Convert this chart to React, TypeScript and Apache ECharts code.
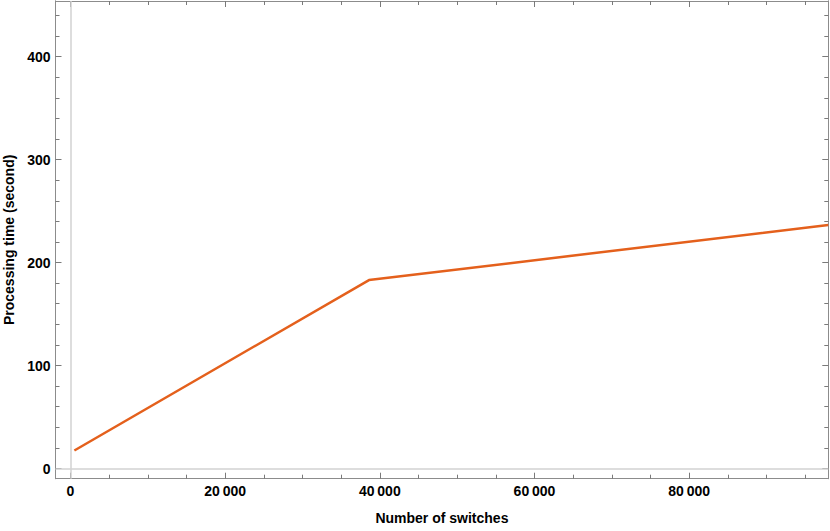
import React, { useEffect, useRef } from "react";
import * as echarts from "echarts";

const switchCounts = [500, 38600, 98000];
const processingTimes = [17.5, 183, 236.5];

const xMajorTicks = [0, 20000, 40000, 60000, 80000];
const xMinorTicks = [5000, 10000, 15000, 25000, 30000, 35000, 45000, 50000, 55000, 65000, 70000, 75000, 85000, 90000, 95000];
const yMajorTicks = [0, 100, 200, 300, 400];
const yMinorTicks = [20, 40, 60, 80, 120, 140, 160, 180, 220, 240, 260, 280, 320, 340, 360, 380, 420, 440];

const X_MIN = -1940;
const X_MAX = 98000;
const Y_MIN = -9.9;
const Y_MAX = 454;

const FRAME = "#8c8c8c";
const TICK = "#7a7a7a";
const FONT = "'Liberation Sans', Arial, sans-serif";

const fmtThousands = (v: number) =>
  String(Math.round(v)).replace(/\B(?=(\d{3})+(?!\d))/g, "\u2009");

function makeX(position: "bottom" | "top", ticks: number[], len: number, labels: boolean, name?: string) {
  return {
    type: "value",
    position,
    min: X_MIN,
    max: X_MAX,
    name: name || "",
    nameLocation: "middle",
    nameGap: 32,
    nameTextStyle: { fontFamily: FONT, fontWeight: "bold", fontSize: 14, color: "#000" },
    axisLine: { show: true, onZero: false, lineStyle: { color: FRAME, width: 1 } },
    splitLine: { show: false },
    axisTick: { show: true, inside: true, length: len, customValues: ticks, lineStyle: { color: TICK, width: 1 } },
    axisLabel: {
      show: labels,
      customValues: labels ? ticks : undefined,
      formatter: fmtThousands,
      fontFamily: FONT,
      fontWeight: "bold",
      fontSize: 14,
      color: "#000",
      margin: 5,
    },
  };
}

function makeY(position: "left" | "right", ticks: number[], len: number, labels: boolean, name?: string) {
  return {
    type: "value",
    position,
    min: Y_MIN,
    max: Y_MAX,
    name: name || "",
    nameLocation: "middle",
    nameGap: 37,
    nameRotate: 90,
    nameTextStyle: { fontFamily: FONT, fontWeight: "bold", fontSize: 14, color: "#000" },
    axisLine: { show: true, onZero: false, lineStyle: { color: FRAME, width: 1 } },
    splitLine: { show: false },
    axisTick: { show: true, inside: true, length: len, customValues: ticks, lineStyle: { color: TICK, width: 1 } },
    axisLabel: {
      show: labels,
      customValues: labels ? ticks : undefined,
      fontFamily: FONT,
      fontWeight: "bold",
      fontSize: 14,
      color: "#000",
      margin: 5,
    },
  };
}

export default function App() {
  const ref = useRef<HTMLDivElement>(null);
  useEffect(() => {
    if (!ref.current) return;
    const chart = echarts.init(ref.current, null, { renderer: "svg" });
    chart.setOption({
      animation: false,
      backgroundColor: "#fff",
      grid: {
        left: 55.5,
        right: 1.7,
        top: 1,
        bottom: 52.3,
        show: false,
        containLabel: false,
        outerBoundsMode: "none",
      },
      xAxis: [
        makeX("bottom", xMajorTicks, 6, true, "Number of switches"),
        makeX("bottom", xMinorTicks, 4, false),
        makeX("top", xMajorTicks, 6, false),
        makeX("top", xMinorTicks, 4, false),
      ],
      yAxis: [
        makeY("left", yMajorTicks, 6, true, "Processing time (second)"),
        makeY("left", yMinorTicks, 4, false),
        makeY("right", yMajorTicks, 6, false),
        makeY("right", yMinorTicks, 4, false),
      ],
      series: [
        {
          type: "line",
          xAxisIndex: 0,
          yAxisIndex: 0,
          data: switchCounts.map((x, i) => [x, processingTimes[i]]),
          showSymbol: false,
          symbol: "none",
          z: 3,
          lineStyle: { color: "#E4601C", width: 2.5 },
          markLine: {
            silent: true,
            symbol: "none",
            label: { show: false },
            lineStyle: { color: "#d2d2d2", width: 1.5, type: "solid" },
            z: 1,
            data: [{ xAxis: 0 }, { yAxis: 0 }],
          },
        },
      ],
    });
    return () => chart.dispose();
  }, []);
  return <div ref={ref} style={{ width: 830, height: 531, position: "absolute", left: 0, top: 0 }} />;
}
